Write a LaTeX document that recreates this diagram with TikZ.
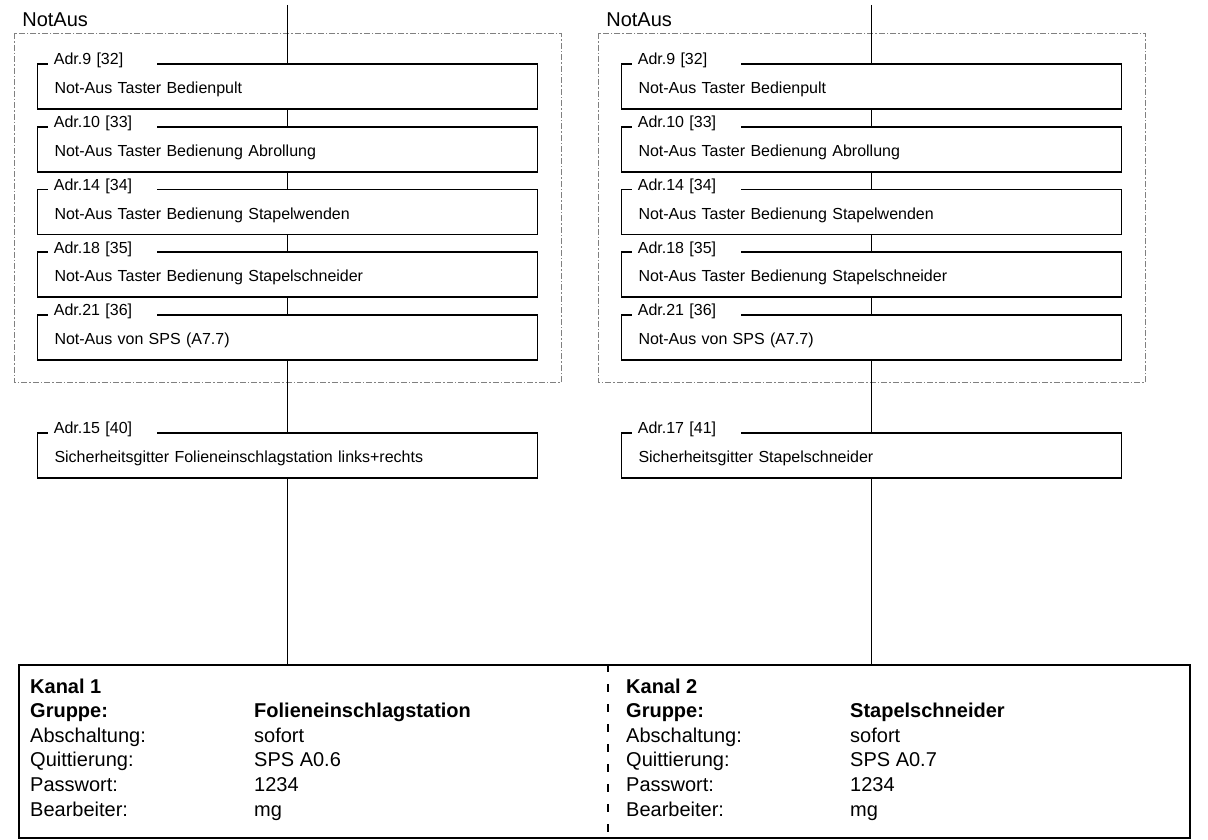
\documentclass[tikz,border=0pt]{standalone}
\usepackage{fontspec}
\setmainfont{Liberation Sans}
\usepackage{tikz}
\usetikzlibrary{positioning,calc}
\newcommand{\feld}[2]{\makebox[224pt][l]{#1}#2}

\begin{document}
\begin{tikzpicture}[x=1pt,y=-1pt,font=\fontsize{16}{19}\selectfont]
    \tikzstyle{kasten}=[draw, line width=1.7pt, fill=white, minimum width=500pt, minimum height=45pt, text width=466pt, text height=17pt, text depth=3pt, inner sep=0pt, align=left, node distance=62.75pt, on grid]
    \tikzstyle{adr}=[fill=white, anchor=base west, xshift=11pt, yshift=-1.7pt, text width=97pt, inner xsep=6pt, inner ysep=1pt, align=left]
    \tikzstyle{gruppe}=[draw=gray, line width=0.8pt, dash pattern=on 6pt off 2pt on 1.5pt off 2pt]
    \tikzstyle{leitung}=[line width=1.4pt]
    \tikzstyle{rahmen}=[draw, line width=1.8pt, minimum width=1171pt, minimum height=173pt, inner sep=0pt]
    \tikzstyle{kanal}=[anchor=north west, inner sep=0pt, align=left, font=\fontsize{20}{24.6}\selectfont]
    \useasboundingbox (0,0) rectangle (1208,840);

    \foreach \s/\x in {l/287.5,r/871.5} {
        \coordinate (\s oben) at (\x,5);
        \node[kasten, label={[adr]north west:{Adr.9 [32]}}] (\s9) at (\x,86.5) {Not-Aus Taster Bedienpult};
        \node[kasten, below=of \s9, label={[adr]north west:{Adr.10 [33]}}] (\s10) {Not-Aus Taster Bedienung Abrollung};
        \node[kasten, below=of \s10, label={[adr]north west:{Adr.14 [34]}}] (\s14) {Not-Aus Taster Bedienung Stapelwenden};
        \node[kasten, below=of \s14, label={[adr]north west:{Adr.18 [35]}}] (\s18) {Not-Aus Taster Bedienung Stapelschneider};
        \node[kasten, below=of \s18, label={[adr]north west:{Adr.21 [36]}}] (\s21) {Not-Aus von SPS (A7.7)};
        \draw[gruppe] ($(\s9.north west)+(-22,-30)$) rectangle ($(\s21.south east)+(23,22)$);
        \node[anchor=base west, inner sep=0pt, font=\fontsize{20}{24}\selectfont] (\s titel) at ($(\s9.north west)+(-14.5,-36.5)$) {NotAus};
    }
    \node[kasten, below=118pt of l21, label={[adr]north west:{Adr.15 [40]}}] (l15) {Sicherheitsgitter Folieneinschlagstation links+rechts};
    \node[kasten, below=118pt of r21, label={[adr]north west:{Adr.17 [41]}}] (r15) {Sicherheitsgitter Stapelschneider};

    % Kanaele
    \node[rahmen] (kanaele) at (604.5,751.5) {};
    \coordinate (teiler) at (608,0);
    \draw[line width=1.2pt, dash pattern=on 8pt off 12pt] (teiler |- kanaele.north) -- (teiler |- kanaele.south);
    \node[kanal] (k1) at (30,678.4) {\textbf{Kanal 1}\\ \textbf{\feld{Gruppe:}{Folieneinschlagstation}}\\ \feld{Abschaltung:}{sofort}\\ \feld{Quittierung:}{SPS A0.6}\\ \feld{Passwort:}{1234}\\ \feld{Bearbeiter:}{mg}};
    \node[kanal] (k2) at (626,678.4) {\textbf{Kanal 2}\\ \textbf{\feld{Gruppe:}{Stapelschneider}}\\ \feld{Abschaltung:}{sofort}\\ \feld{Quittierung:}{SPS A0.7}\\ \feld{Passwort:}{1234}\\ \feld{Bearbeiter:}{mg}};

    \foreach \s in {l,r} {
        \draw[leitung] (\s oben) -- (\s9.north);
        \draw[leitung] (\s9.south) -- (\s10.north);
        \draw[leitung] (\s10.south) -- (\s14.north);
        \draw[leitung] (\s14.south) -- (\s18.north);
        \draw[leitung] (\s18.south) -- (\s21.north);
        \draw[leitung] (\s21.south) -- (\s15.north);
        \draw[leitung] (\s15.south) -- (\s15.south |- kanaele.north);
    }
\end{tikzpicture}
\end{document}
